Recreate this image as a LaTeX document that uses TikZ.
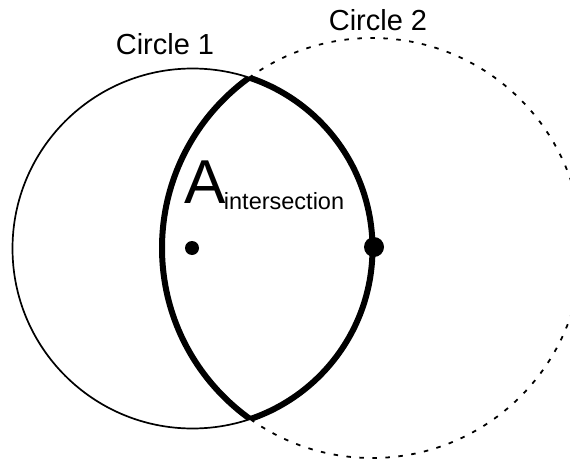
\documentclass[tikz,border=0pt]{standalone}
\usepackage{fontspec}
\setmainfont{Liberation Sans}
\usetikzlibrary{positioning}

\begin{document}
\begin{tikzpicture}[x=1pt,y=-1pt,
  lbl/.style={font=\fontsize{29}{29}\selectfont,inner sep=0pt},
  thin/.style={line width=1.7pt,black},
  dashcirc/.style={line width=1.8pt,black,dash pattern=on 4.5pt off 8.5pt},
  lens/.style={line width=6pt,black},
  ctr/.style={circle,fill=black,inner sep=0pt},
]

\def\Ax{192.5}
\def\Ay{248.5}
\def\Ra{180}
\def\Bx{372}
\def\By{248}
\def\Rb{210}

\clip (0,0) rectangle (570,460);

% ------------------------------------------------------------------
% the two circles
% ------------------------------------------------------------------
\draw[thin] (\Ax,\Ay) circle[radius=\Ra];
\draw[dashcirc] (\Bx,\By) circle[radius=\Rb];

% ------------------------------------------------------------------
% overlap region (lens)
% ------------------------------------------------------------------
\begin{scope}
  \clip (\Ax,\Ay) circle[radius=\Ra];
  \draw[lens] (\Bx,\By) circle[radius=\Rb];
\end{scope}
\begin{scope}
  \clip (\Bx,\By) circle[radius=\Rb];
  \draw[lens] (\Ax,\Ay) circle[radius=\Ra];
\end{scope}

% centres
\node[ctr,minimum size=14pt] (c1) at (192,248) {};
\node[ctr,minimum size=20pt] (c2) at (374,247) {};

% ------------------------------------------------------------------
% labels
% ------------------------------------------------------------------
\node[lbl,anchor=base] (lab1) at (165,55) {Circle 1};
\node[lbl,anchor=base] (lab2) at (378,31) {Circle 2};

\node[font=\fontsize{62}{62}\selectfont,inner sep=0pt,anchor=base west]
  (A) at (184,203) {A};
\node[font=\fontsize{23.5}{23.5}\selectfont,inner sep=0pt,anchor=base west]
  (sub) at ([xshift=-2pt,yshift=-6pt]A.base east) {intersection};

\end{tikzpicture}
\end{document}
